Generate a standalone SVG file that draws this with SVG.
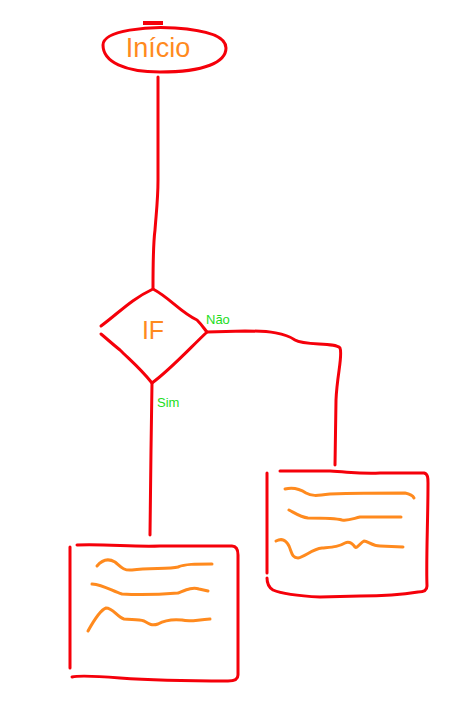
<svg xmlns="http://www.w3.org/2000/svg" width="476" height="728" viewBox="0 0 476 728">
<style>
.r{fill:none;stroke:#f5000a;stroke-width:3;stroke-linecap:round;stroke-linejoin:round}
.o{fill:none;stroke:#ff8a1e;stroke-width:3;stroke-linecap:round;stroke-linejoin:round}
.t{font-family:"Liberation Sans",Arial,sans-serif;fill:#ff8a1e}
.g{font-family:"Liberation Sans",Arial,sans-serif;fill:#22dd22;font-size:13px}
</style>
<rect width="476" height="728" fill="#ffffff"/>
<g id="connectors">
<path class="r" d="M158,77 L158,180 C158,200 156,215 155,230 C153,245 153,265 153,288"/>
<path class="r" d="M152,383 L151,450 L150,535"/>
<path class="r" d="M207,332 L245,331 C270,331 285,333 295,340 C305,346 335,342 340,348 C343,355 337,375 336,400 L335,465"/>
</g>
<g id="inicio">
<path class="r" d="M103,45 C103,30 150,26 175,28 C205,30 226,36 226,48 C226,62 205,72 160,72 C125,72 103,62 103,45 Z"/>
<path d="M143,23 L163,23" stroke="#f5000a" stroke-width="4" fill="none"/>
<text class="t" x="158" y="57" font-size="27" text-anchor="middle">Início</text>
</g>
<g id="if">
<path class="r" d="M101,326 C120,312 130,300 153,289 C170,298 180,312 197,320 C203,326 205,330 207,332 C190,348 170,370 152,383 C140,368 130,360 120,350 C110,342 106,338 101,334"/>
<text class="t" x="153" y="339" font-size="25" text-anchor="middle">IF</text>
<text class="g" x="206" y="324">Não</text>
<text class="g" x="157" y="407">Sim</text>
</g>
<g id="box-sim">
<path class="r" d="M70,547 L70,668"/>
<path class="r" d="M77,545 C110,544 130,547 160,546 L232,546 C237,546 238,550 238,555 L238,675 C238,680 234,681 228,681 C190,681 160,681 120,678 C95,676 80,675 72,677"/>
<path class="o" d="M97,566 C102,560 108,558 115,562 C120,566 123,571 132,570 C150,568 170,569 178,567 C185,564 195,564 212,564"/>
<path class="o" d="M92,584 C104,585 112,591 122,594 C140,595 165,594 178,593 C186,590 192,587 199,589 L208,591"/>
<path class="o" d="M88,631 C93,622 100,610 106,608 C113,608 117,617 124,619 C130,620 138,619 144,621 C149,624 152,626 158,624 C165,620 172,619 182,620 C190,622 195,620 210,619"/>
</g>
<g id="box-nao">
<path class="r" d="M267,473 L267,573"/>
<path class="r" d="M280,471 L330,471 C350,472 360,474 380,473 L424,473 C428,474 428,478 428,483 C428,520 426,560 427,586 C427,591 423,592 418,592 C400,595 385,596 360,596 L320,597 C300,596 282,594 273,590 C268,587 267,583 267,578"/>
<path class="o" d="M285,489 C293,487 300,489 306,493 C311,496 316,496 330,494 C360,493 390,493 405,493 C410,494 413,496 414,498"/>
<path class="o" d="M289,510 C295,513 300,517 308,518 C325,518 335,518 342,520 C348,521 352,519 360,517 L401,517"/>
<path class="o" d="M276,541 C282,538 286,540 289,546 C292,553 292,558 298,558 C305,557 312,549 322,548 C333,547 338,547 345,543 C349,541 352,543 355,547 C357,549 360,543 364,541 C368,541 372,546 380,546 L403,547"/>
</g>
</svg>
